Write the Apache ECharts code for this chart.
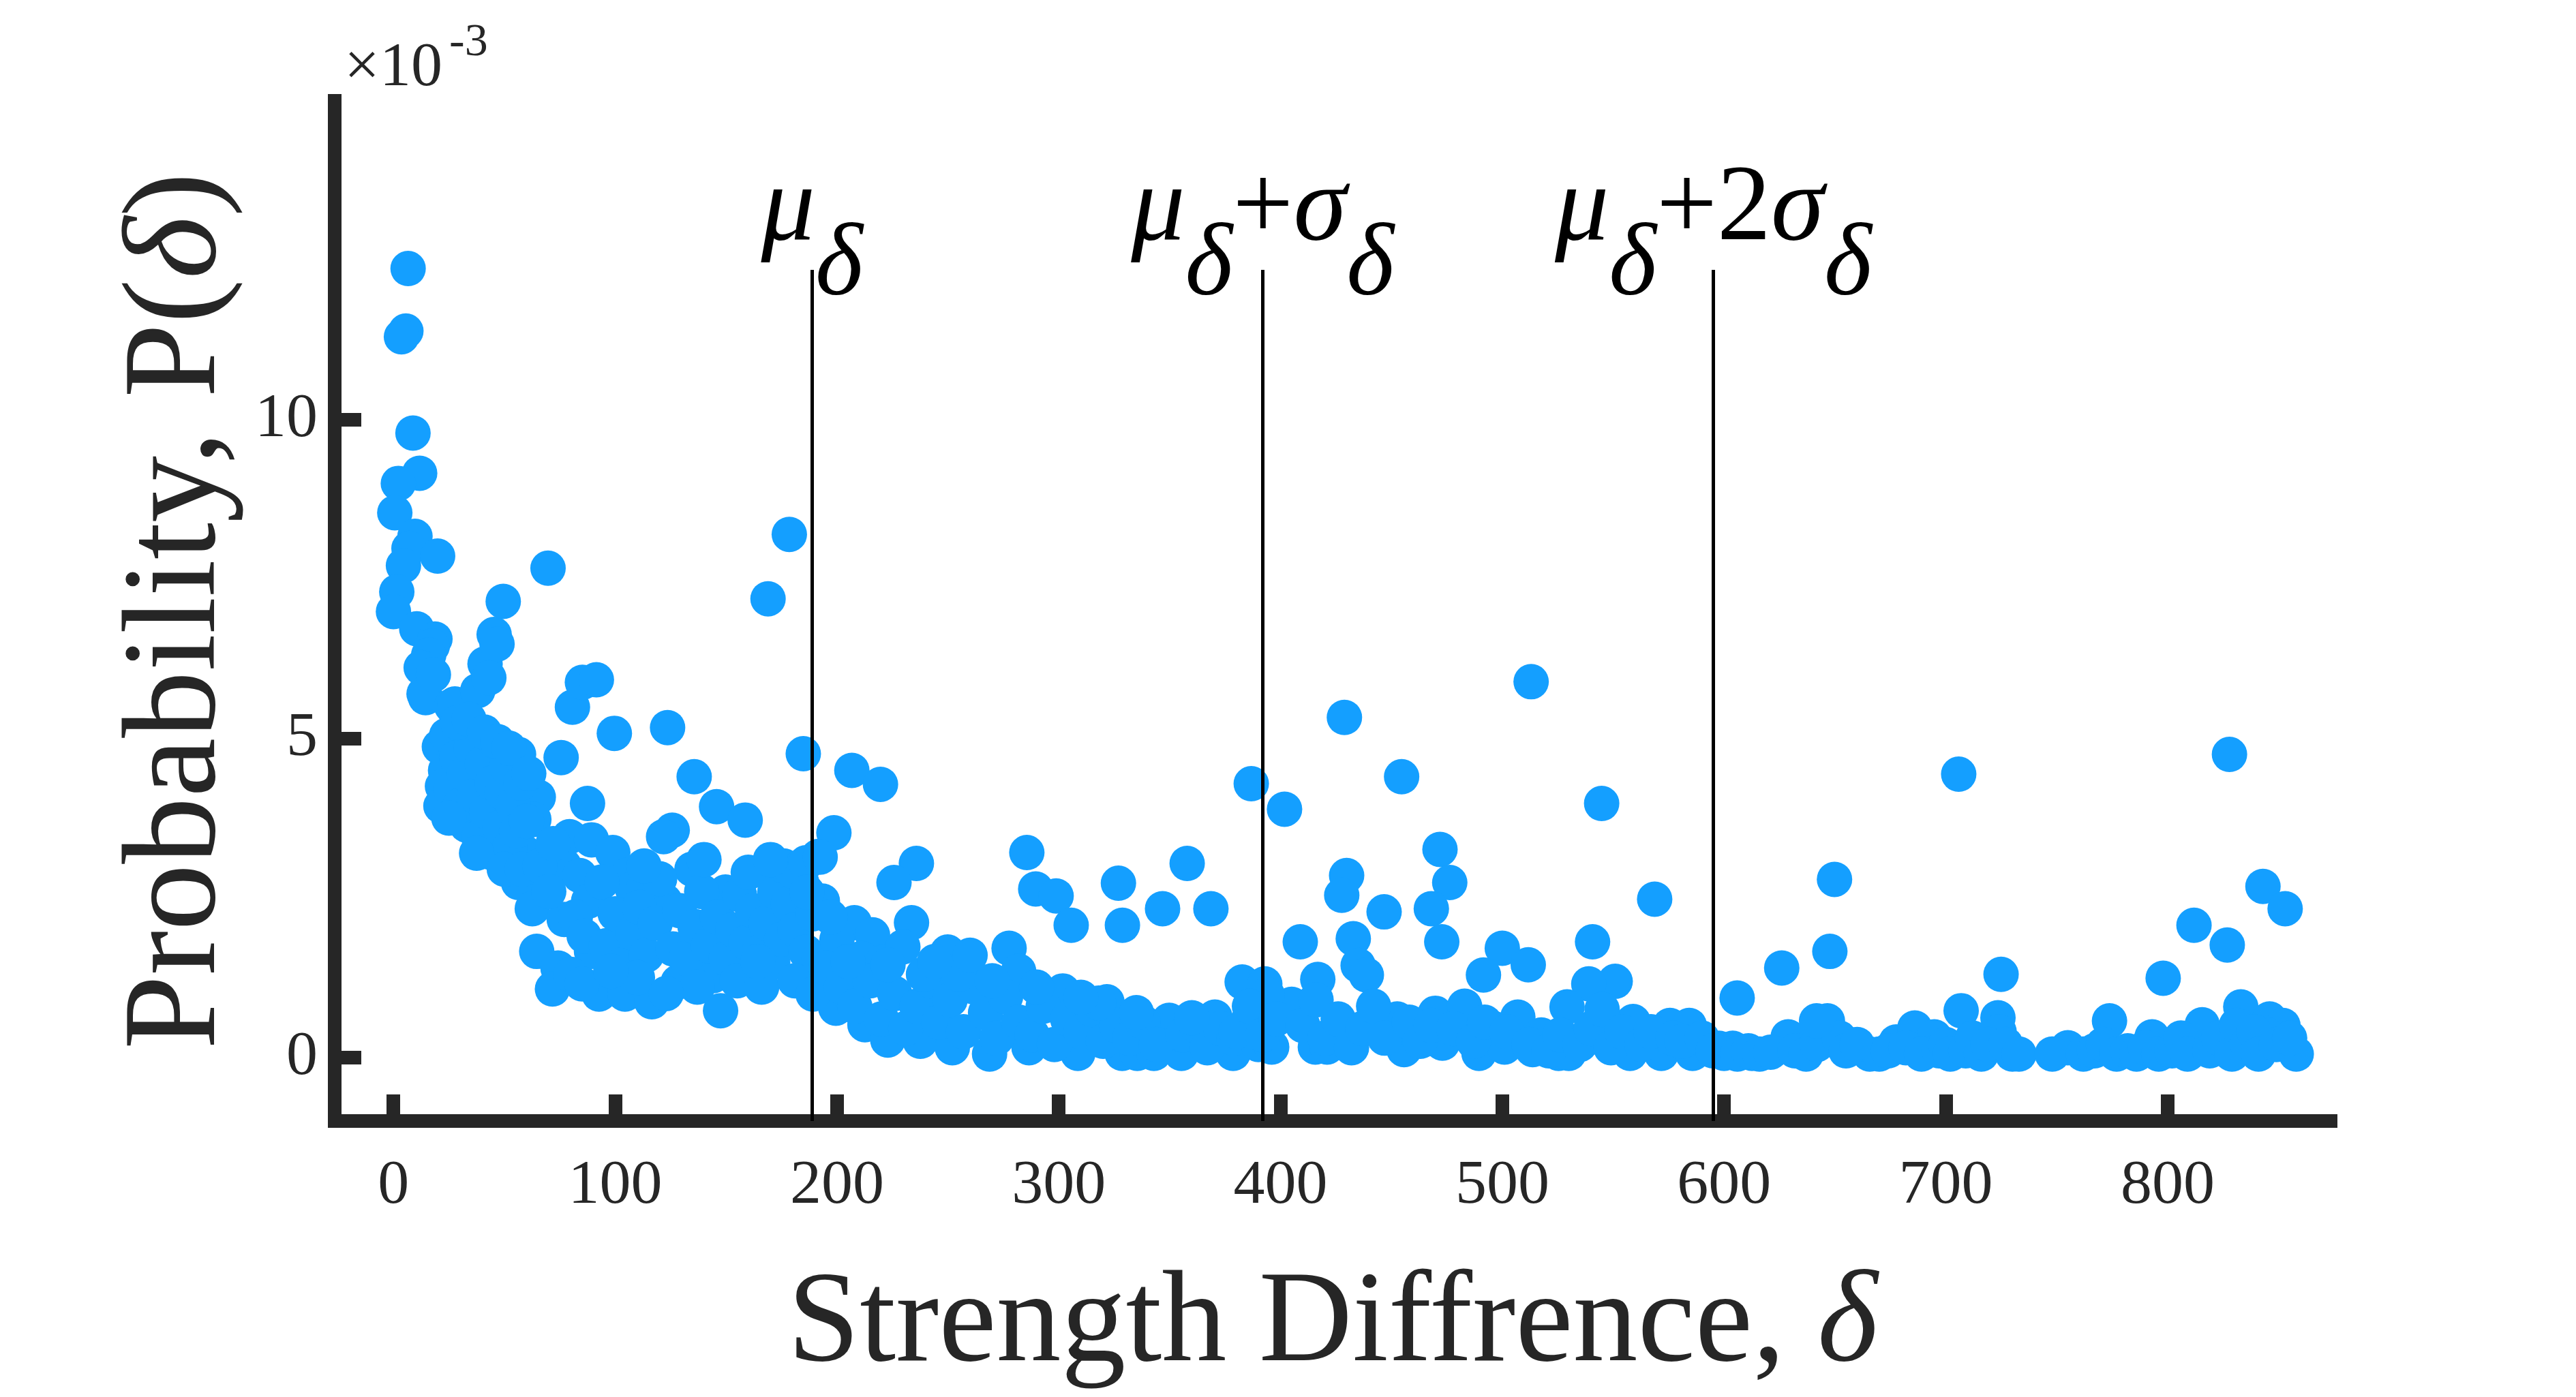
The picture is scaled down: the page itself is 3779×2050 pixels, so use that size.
<!DOCTYPE html>
<html>
<head>
<meta charset="utf-8">
<title>Strength difference probability</title>
<script src="https://cdn.jsdelivr.net/npm/echarts@6/dist/echarts.min.js"></script>
<style>
  html, body { margin: 0; padding: 0; background: #fff; }
  #chart { width: 3779px; height: 2050px; }
</style>
</head>
<body>
<div id="chart"></div>
<script>
// P(delta) is given in units of 1e-3 (the axis shows x10^-3)

// steep head of the distribution, delta < ~65
var headPoints = [
	[6.6, 12.37], [5.6, 11.39], [3.6, 11.30], [8.8, 9.79], [11.8, 9.16], [2.2, 9.00],
	[0.6, 8.54], [9.7, 8.17], [7.0, 7.98], [19.9, 7.86], [4.5, 7.71], [1.5, 7.30],
	[0.0, 6.99], [10.5, 6.72], [18.7, 6.56], [17.5, 6.45], [15.9, 6.31], [12.5, 6.11],
	[14.5, 5.64], [13.8, 5.70], [18.0, 6.00], [26.2, 5.51], [20.7, 4.87], [23.5, 4.50],
	[22.1, 4.25], [21.4, 3.94], [24.0, 5.05], [27.7, 5.54], [33.0, 5.08], [38.0, 5.75],
	[41.3, 6.17], [45.4, 6.63], [46.7, 6.48], [49.5, 7.15], [43.0, 5.95], [56.4, 4.75],
	[65.3, 4.08], [63.3, 3.73], [33.0, 3.64], [44.0, 3.21], [59.1, 3.21], [56.4, 2.74],
	[62.6, 2.33], [26.0, 4.20], [28.5, 4.70], [30.0, 3.95], [32.0, 4.45], [35.0, 4.85],
	[36.5, 4.10], [38.5, 3.45], [40.0, 4.60], [42.0, 3.85], [44.5, 4.30], [46.0, 4.95],
	[48.0, 3.60], [49.0, 4.15], [51.0, 4.55], [52.5, 3.30], [54.0, 3.95], [55.5, 3.55],
	[57.5, 4.30], [60.0, 3.70], [29.0, 5.25], [34.0, 5.30], [41.0, 5.10], [47.0, 4.95],
	[52.0, 4.85], [25.0, 3.75], [37.5, 3.20], [50.0, 2.95], [58.0, 2.95], [61.0, 4.45]
];

// body, 60 < delta < 230
var bodyPoints = [
	[69.7, 7.67], [80.7, 5.49], [85.2, 5.88], [91.5, 5.92], [75.6, 4.70], [99.6, 5.08],
	[123.6, 5.17], [87.5, 3.98], [135.6, 4.40], [145.7, 3.93], [158.6, 3.72], [125.7, 3.56],
	[121.8, 3.46], [79.4, 3.46], [89.3, 3.41], [98.9, 3.21], [77.0, 3.00], [105.8, 2.86],
	[107.8, 2.64], [134.6, 2.95], [169.6, 2.95], [122.3, 2.45], [149.7, 2.59], [77.0, 2.16],
	[64.6, 1.66], [74.2, 1.40], [71.7, 1.07], [89.3, 1.66], [92.7, 0.99], [104.4, 0.99],
	[116.5, 0.87], [128.4, 1.18], [144.2, 1.28], [147.5, 0.73], [161.6, 1.35], [171.0, 1.49],
	[168.9, 7.19], [178.5, 8.20], [184.8, 4.76], [198.6, 3.52], [191.6, 3.15], [112.8, 2.64],
	[66.0, 3.00], [70.0, 2.60], [84.0, 2.85], [88.0, 2.45], [72.0, 3.35], [82.0, 2.20],
	[86.0, 1.90], [94.0, 2.75], [96.0, 1.75], [100.0, 2.25], [103.0, 1.45], [108.0, 1.95],
	[111.0, 2.35], [114.0, 1.60], [118.0, 2.10], [120.0, 2.80], [126.0, 1.70], [129.0, 2.30],
	[132.0, 1.55], [136.0, 2.05], [139.0, 2.60], [142.0, 1.75], [146.0, 2.20], [150.0, 1.55],
	[153.0, 2.00], [156.0, 2.55], [159.0, 1.80], [162.0, 2.30], [165.0, 1.65], [168.0, 2.10],
	[172.0, 2.60], [175.0, 1.85], [178.0, 2.40], [181.0, 2.00], [184.0, 2.75], [186.0, 1.65],
	[189.0, 2.25], [192.0, 1.55], [110.0, 1.25], [137.0, 1.10], [155.0, 1.20], [113.0, 3.00],
	[140.0, 3.10], [160.0, 2.90], [176.0, 3.00], [180.0, 2.92], [186.0, 3.05], [192.4, 3.14],
	[170.0, 3.10], [80.0, 1.30], [85.0, 1.15], [98.0, 1.35], [123.0, 1.00], [166.0, 1.10],
	[181.0, 1.20], [164.3, 1.50], [193.4, 2.45], [207.8, 2.11], [216.0, 1.92], [186.5, 2.59],
	[200.0, 1.85], [211.0, 1.55], [197.0, 2.20], [220.7, 1.49]
];

// dense band, 190 < delta < 615
var bandPoints = [
	[206.7, 4.50], [219.6, 4.28], [235.8, 3.04], [225.7, 2.74], [285.6, 3.21], [289.6, 2.64],
	[298.8, 2.53], [305.6, 2.07], [326.9, 2.73], [328.7, 2.07], [346.8, 2.33], [357.9, 3.04],
	[368.6, 2.33], [386.8, 4.29], [382.7, 1.18], [233.6, 2.11], [229.7, 1.73], [249.9, 1.65],
	[277.6, 1.71], [281.9, 1.35], [301.8, 1.04], [321.7, 0.87], [349.8, 0.58], [370.4, 0.63],
	[212.6, 0.51], [199.5, 0.77], [189.2, 0.99], [222.9, 0.27], [237.6, 0.25], [252.0, 0.15],
	[268.8, 0.05], [286.6, 0.15], [308.6, 0.06], [328.6, 0.06], [335.4, 0.06], [342.9, 0.06],
	[355.3, 0.06], [378.6, 0.06], [195.0, 1.40], [202.0, 1.10], [208.0, 0.80], [215.0, 1.20],
	[220.0, 0.60], [226.0, 1.00], [231.0, 0.45], [236.0, 0.80], [242.0, 1.20], [246.0, 0.55],
	[251.0, 0.90], [257.0, 0.40], [262.0, 1.10], [267.0, 0.70], [272.0, 0.30], [276.0, 0.95],
	[282.0, 0.55], [288.0, 0.35], [293.0, 0.80], [298.0, 0.20], [304.0, 0.60], [310.0, 0.40],
	[315.0, 0.75], [320.0, 0.25], [326.0, 0.50], [332.0, 0.30], [338.0, 0.55], [344.0, 0.20],
	[356.0, 0.35], [362.0, 0.50], [367.0, 0.15], [373.0, 0.45], [379.0, 0.30], [385.0, 0.55],
	[390.0, 0.20], [205.0, 1.50], [223.0, 1.45], [239.0, 1.30], [255.0, 1.30], [270.0, 1.20],
	[244.0, 1.50], [260.0, 1.60], [318.0, 0.85], [335.0, 0.70], [360.0, 0.62], [310.0, 0.94],
	[290.0, 1.10],
	[401.8, 3.89], [428.8, 5.33], [454.6, 4.40], [544.8, 3.98], [513.0, 5.89], [471.9, 3.26],
	[476.3, 2.74], [429.8, 2.85], [427.6, 2.54], [446.7, 2.28], [468.0, 2.33], [472.7, 1.81],
	[432.8, 1.86], [408.9, 1.81], [568.7, 2.48], [540.7, 1.81], [500.0, 1.71], [511.7, 1.45],
	[491.5, 1.29], [550.9, 1.19], [539.0, 1.15], [529.2, 0.79], [605.9, 0.93], [392.9, 1.15],
	[416.8, 1.22], [435.0, 1.44], [438.7, 1.29], [405.0, 0.83], [452.6, 0.60], [469.8, 0.69],
	[483.0, 0.80], [496.0, 0.45], [507.0, 0.63], [517.6, 0.35], [559.0, 0.56], [575.6, 0.50],
	[584.3, 0.50], [597.7, 0.14], [603.9, 0.14], [394.0, 0.98], [396.0, 0.16], [415.7, 0.16],
	[421.0, 0.16], [455.7, 0.12], [473.0, 0.22], [489.5, 0.06], [501.0, 0.16], [513.7, 0.12],
	[525.4, 0.06], [530.0, 0.06], [557.6, 0.06], [571.7, 0.06], [585.8, 0.06], [600.0, 0.06],
	[612.6, 0.06], [380.0, 0.40], [386.0, 0.80], [392.0, 0.35], [398.0, 0.60], [410.0, 0.50],
	[416.0, 0.90], [420.0, 0.30], [426.0, 0.60], [432.0, 0.15], [437.0, 0.45], [442.0, 0.80],
	[447.0, 0.30], [458.0, 0.55], [463.0, 0.25], [468.0, 0.50], [478.0, 0.45], [487.0, 0.25],
	[492.0, 0.55], [502.0, 0.40], [512.0, 0.20], [521.0, 0.10], [526.0, 0.35], [535.0, 0.20],
	[540.0, 0.45], [545.0, 0.75], [549.0, 0.15], [554.0, 0.40], [563.0, 0.20], [567.0, 0.40],
	[577.0, 0.30], [581.0, 0.25], [590.0, 0.30], [595.0, 0.10]
];

// sparse tail, delta > 615
var tailPoints = [
	[626.0, 1.40], [647.7, 1.66], [649.8, 2.79], [646.6, 0.57], [628.9, 0.32], [665.7, 0.05],
	[677.6, 0.24], [686.0, 0.46], [694.8, 0.32], [706.9, 0.73], [705.8, 4.44], [723.5, 0.62],
	[724.0, 0.40], [724.9, 1.30], [730.0, 0.05], [755.0, 0.15], [773.8, 0.57], [793.0, 0.32],
	[798.0, 1.24], [811.9, 2.07], [815.6, 0.51], [826.9, 1.76], [827.9, 4.75], [833.0, 0.79],
	[843.0, 2.68], [846.0, 0.60], [852.0, 0.50], [853.0, 2.33], [845.0, 0.35], [858.0, 0.05],
	[606.0, 0.05], [611.0, 0.10], [616.0, 0.05], [621.0, 0.08], [632.0, 0.10], [637.0, 0.05],
	[642.0, 0.20], [652.0, 0.30], [655.0, 0.10], [660.0, 0.20], [670.0, 0.05], [674.0, 0.10],
	[682.0, 0.15], [689.0, 0.05], [697.0, 0.10], [700.0, 0.20], [702.0, 0.05], [709.0, 0.10],
	[712.0, 0.30], [716.0, 0.05], [719.0, 0.20], [727.0, 0.20], [733.0, 0.05], [748.0, 0.05],
	[762.0, 0.05], [767.0, 0.10], [771.0, 0.20], [777.0, 0.05], [782.0, 0.10], [786.0, 0.05],
	[790.0, 0.15], [796.0, 0.05], [802.0, 0.10], [806.0, 0.30], [809.0, 0.05], [819.0, 0.10],
	[823.0, 0.30], [829.0, 0.05], [831.0, 0.50], [836.0, 0.20], [839.0, 0.40], [841.0, 0.05],
	[849.0, 0.20], [855.0, 0.30], [641.7, 0.57]
];

var xTickValues = [0, 100, 200, 300, 400, 500, 600, 700, 800];
var yTickValues = [0, 5, 10];

var muDelta = 188.7;
var sigmaDelta = 203.2;
var guideTop = 12.35;
var guideLabels = [
	'{m|μ}{s|δ}',
	'{m|μ}{s|δ}{n|+}{m|σ}{s|δ}',
	'{m|μ}{s|δ}{n|+2}{m|σ}{s|δ}'
];

var serif = "'Liberation Serif', 'Times New Roman', serif";
var ink = '#262626';

var points = headPoints.concat(bodyPoints, bandPoints, tailPoints);

var guideValues = [muDelta, muDelta + sigmaDelta, muDelta + 2 * sigmaDelta];
var guideLines = guideValues.map(function (v, i) {
	return [
		{ coord: [v, -1], label: { formatter: guideLabels[i] } },
		{ coord: [v, guideTop] }
	];
});

var myChart = echarts.init(document.getElementById('chart'));

var option = {
	backgroundColor: '#ffffff',
	animation: false,
	grid: {
		left: 491,
		right: 360,
		top: 148,
		bottom: 405,
		containLabel: false,
		outerBoundsMode: 'none'
	},
	xAxis: {
		type: 'value',
		min: -26.5,
		max: 873.5,
		name: 'Strength Diffrence, {i|δ}',
		nameLocation: 'middle',
		nameGap: 206,
		nameTextStyle: {
			fontFamily: serif,
			fontSize: 190,
			color: ink,
			rich: {
				i: { fontFamily: serif, fontSize: 190, fontStyle: 'italic', color: ink }
			}
		},
		axisLine: { show: true, onZero: false, lineStyle: { color: ink, width: 20, cap: 'square' } },
		axisTick: { show: true, inside: true, length: 39, customValues: xTickValues, lineStyle: { color: ink, width: 20 } },
		axisLabel: { customValues: xTickValues, fontFamily: serif, fontSize: 92, color: ink, margin: 50 },
		splitLine: { show: false }
	},
	yAxis: {
		type: 'value',
		min: -1,
		max: 15,
		name: 'Probability, P({i|δ})',
		nameLocation: 'middle',
		nameGap: 130,
		nameTextStyle: {
			fontFamily: serif,
			fontSize: 196,
			color: ink,
			rich: {
				i: { fontFamily: serif, fontSize: 196, fontStyle: 'italic', color: ink }
			}
		},
		axisLine: { show: true, onZero: false, lineStyle: { color: ink, width: 20, cap: 'square' } },
		axisTick: { show: true, inside: true, length: 39, customValues: yTickValues, lineStyle: { color: ink, width: 20 } },
		axisLabel: { customValues: yTickValues, fontFamily: serif, fontSize: 92, color: ink, margin: 25 },
		splitLine: { show: false }
	},
	graphic: [
		{
			type: 'text',
			style: { text: '×10', x: 505, y: 147, font: '92px ' + serif, fill: ink, textVerticalAlign: 'bottom' }
		},
		{
			type: 'text',
			style: { text: '-3', x: 659, y: 97, font: '68px ' + serif, fill: ink, textVerticalAlign: 'bottom' }
		}
	],
	series: [{
		type: 'scatter',
		data: points,
		symbol: 'circle',
		symbolSize: 52,
		silent: true,
		itemStyle: { color: '#149fff', opacity: 1 },
		markLine: {
			silent: true,
			symbol: 'none',
			lineStyle: { color: '#000000', width: 5, type: 'solid' },
			label: {
				show: true,
				position: 'end',
				distance: 6,
				rich: {
					m: { fontFamily: serif, fontSize: 158, fontStyle: 'italic', color: '#000', lineHeight: 160 },
					n: { fontFamily: serif, fontSize: 158, color: '#000', lineHeight: 160 },
					s: { fontFamily: serif, fontSize: 150, fontStyle: 'italic', color: '#000', lineHeight: 160, padding: [166, 0, 0, 0] }
				}
			},
			data: guideLines
		}
	}]
};

myChart.setOption(option);
</script>
</body>
</html>
